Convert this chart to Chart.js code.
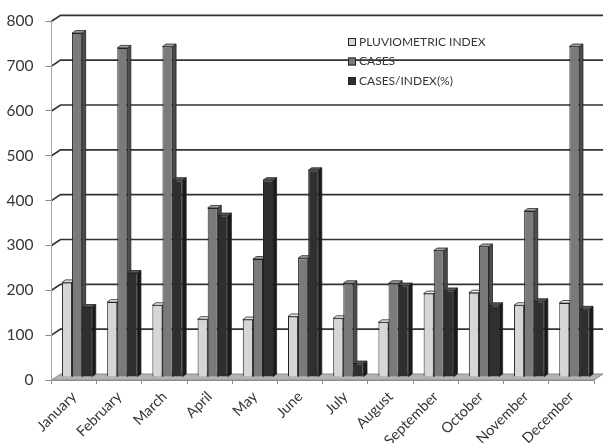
<!DOCTYPE html>
<html>
<head>
<meta charset="utf-8">
<script src="https://cdn.jsdelivr.net/npm/chart.js@4.4.1/dist/chart.umd.min.js"></script>
<style>
  html, body { margin: 0; padding: 0; background: #ffffff; }
  canvas { display: block; }
</style>
</head>
<body>
<canvas id="chart" width="603" height="443"></canvas>
<script>
// Monthly data
const months = ['January', 'February', 'March', 'April', 'May', 'June',
                'July', 'August', 'September', 'October', 'November', 'December'];
const pluviometricIndex = [211, 167, 160, 129, 128, 135, 131, 122, 186, 188, 160, 165];
const cases            = [767, 734, 737, 377, 263, 265, 209, 209, 282, 291, 370, 737];
const casesPerIndex    = [156, 232, 439, 360, 439, 461, 30, 204, 193, 160, 169, 152];
const seriesLabels = ['PLUVIOMETRIC INDEX', 'CASES', 'CASES/INDEX(%)'];
const yMax = 800;
const yStep = 100;

// Shading for the three faces of each column
const faceColors = [
  { front: '#d6d6d6', side: '#9c9c9c', top: '#ebebeb' },
  { front: '#7a7a7a', side: '#4c4c4c', top: '#a3a3a3' },
  { front: '#2f2f2f', side: '#1a1a1a', top: '#595959' }
];
const edgeColor = '#222222';
const textColor = '#363636';

// Pseudo-3D offsets: back wall, column plane, column depth
const BACK = { dx: 9, dy: -6 };
const BAR = { dx: 3, dy: -3 };
const DEPTH = { dx: 3.5, dy: -2.5 };

function poly(ctx, pts, fill) {
  ctx.beginPath();
  ctx.moveTo(pts[0][0], pts[0][1]);
  for (let i = 1; i < pts.length; i++) ctx.lineTo(pts[i][0], pts[i][1]);
  ctx.closePath();
  ctx.fillStyle = fill;
  ctx.fill();
  ctx.stroke();
}

const depthPlugin = {
  id: 'depth',
  beforeDraw(chart) {
    const { ctx, scales: { x, y } } = chart;
    const L = x.left, R = x.right, B = y.getPixelForValue(0);
    ctx.save();
    // floor
    ctx.strokeStyle = '#8c8c8c';
    ctx.lineWidth = 1;
    poly(ctx, [[L, B], [R, B], [R + BACK.dx, B + BACK.dy], [L + BACK.dx, B + BACK.dy]], '#b3b3b3');
    // back wall grid lines with their slant on the side wall
    ctx.strokeStyle = '#333333';
    ctx.lineWidth = 1.7;
    for (let v = yStep; v <= yMax; v += yStep) {
      const py = y.getPixelForValue(v);
      ctx.beginPath();
      ctx.moveTo(L, py);
      ctx.lineTo(L + BACK.dx, py + BACK.dy);
      ctx.lineTo(chart.width, py + BACK.dy);
      ctx.stroke();
    }
    ctx.restore();
  },
  beforeDatasetsDraw(chart) {
    const ctx = chart.ctx;
    ctx.save();
    ctx.translate(BAR.dx, BAR.dy);
    ctx.strokeStyle = edgeColor;
    ctx.lineWidth = 0.8;
    chart.data.datasets.forEach((ds, di) => {
      const meta = chart.getDatasetMeta(di);
      const c = faceColors[di];
      meta.data.forEach(bar => {
        const { x, y, base, width } = bar.getProps(['x', 'y', 'base', 'width'], true);
        const l = x - width / 2, r = x + width / 2;
        poly(ctx, [[r, y], [r + DEPTH.dx, y + DEPTH.dy], [r + DEPTH.dx, base + DEPTH.dy], [r, base]], c.side);
        poly(ctx, [[l, y], [l + DEPTH.dx, y + DEPTH.dy], [r + DEPTH.dx, y + DEPTH.dy], [r, y]], c.top);
      });
    });
    // front faces are drawn by the bar controller in the same shifted plane
  },
  afterDatasetsDraw(chart) {
    chart.ctx.restore();
  },
  afterDraw(chart) {
    const ctx = chart.ctx;
    ctx.save();
    ctx.font = '12px Lato';
    ctx.textBaseline = 'middle';
    ctx.textAlign = 'left';
    chart.data.datasets.forEach((ds, i) => {
      const cy = 42 + i * 19.5;
      ctx.fillStyle = ds.backgroundColor;
      ctx.fillRect(348, cy - 4, 8, 8);
      ctx.strokeStyle = edgeColor;
      ctx.lineWidth = 1;
      ctx.strokeRect(348.5, cy - 3.5, 7, 7);
      ctx.fillStyle = textColor;
      ctx.fillText(ds.label, 359, cy);
    });
    ctx.restore();
  }
};

function build() {
  const seriesValues = [pluviometricIndex, cases, casesPerIndex];
  new Chart(document.getElementById('chart'), {
    type: 'bar',
    data: {
      labels: months,
      datasets: seriesValues.map((values, i) => ({
        label: seriesLabels[i],
        data: values,
        backgroundColor: faceColors[i].front,
        borderColor: edgeColor,
        borderWidth: 1,
        barPercentage: 1,
        categoryPercentage: 0.67
      }))
    },
    options: {
      responsive: false,
      animation: false,
      devicePixelRatio: 1,
      layout: { padding: { top: 12, right: 9, left: 0, bottom: 0 } },
      plugins: { legend: { display: false }, tooltip: { enabled: false } },
      scales: {
        x: {
          offset: true,
          grid: { offset: true, drawOnChartArea: false, drawTicks: true, tickLength: 4, color: '#8c8c8c' },
          border: { color: '#8c8c8c' },
          ticks: {
            minRotation: 45, maxRotation: 45, autoSkip: false,
            font: { family: 'Lato', size: 14.5 }, color: textColor, padding: 4
          },
          afterFit(scale) { scale.height = 63; }
        },
        y: {
          min: 0, max: yMax,
          ticks: { stepSize: yStep, font: { family: 'Lato', size: 15.5 }, color: textColor, padding: 12 },
          grid: { drawOnChartArea: false, drawTicks: true, tickLength: 6, color: '#8c8c8c' },
          border: { color: '#a6a6a6' },
          afterFit(scale) { scale.width = 51.5; }
        }
      }
    },
    plugins: [depthPlugin]
  });
}

if (document.fonts && document.fonts.load) {
  Promise.all([document.fonts.load('15px Lato'), document.fonts.load('12px Lato')])
    .then(build, build);
} else {
  build();
}
</script>
</body>
</html>
